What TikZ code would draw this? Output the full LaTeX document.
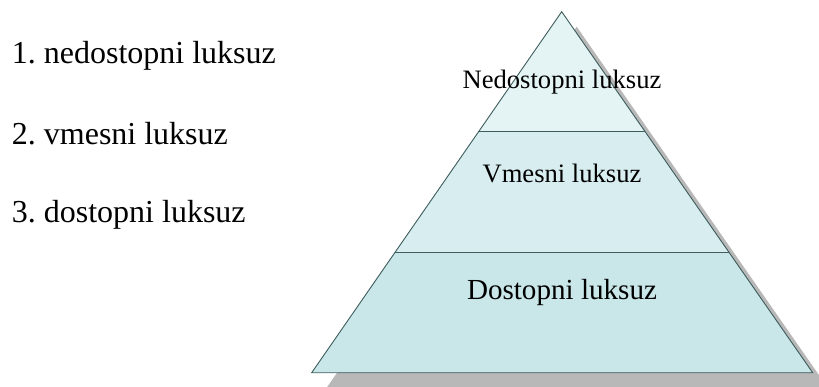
\documentclass[tikz,border=0pt]{standalone}
\usepackage{fontspec}
\setmainfont{Liberation Serif}
\frenchspacing
\definecolor{edgeslate}{RGB}{62,92,92}
\definecolor{toplayer}{RGB}{228,244,245}
\definecolor{midlayer}{RGB}{215,237,240}
\definecolor{baselayer}{RGB}{201,231,233}
\tikzset{layer/.style = {draw=edgeslate, line width=0.9pt, line join=miter}}
\tikzset{shade/.style = {fill=black!28}}
\tikzset{listitem/.style = {anchor=base west, inner sep=0pt, font=\fontsize{32}{38}\selectfont}}
\tikzset{tier/.style = {anchor=base, inner sep=0pt, font=\fontsize{26.6}{32}\selectfont}}

\begin{document}
\begin{tikzpicture}[x=1pt, y=-1pt]
          \useasboundingbox (0,0) rectangle (819,387);
          % corners of the pyramid and its two dividing lines
          \coordinate (apex) at (561.7, 11.7);
          \coordinate (BL) at (311.7, 372.7);
          \coordinate (BR) at (812.7, 372.7);
          \coordinate (L1) at (478.4, 131.7);
          \coordinate (R1) at (645.0, 131.7);
          \coordinate (L2) at (394.5, 252.7);
          \coordinate (R2) at (728.9, 252.7);

          % drop shadow
          \fill[shade] ([shift={(15,15)}]apex) -- ([shift={(15,15)}]BR) -- ([shift={(15,15)}]BL) -- cycle;

          % tiers
          \fill[toplayer] (apex) -- (R1) -- (L1) -- cycle;
          \fill[midlayer] (L1) -- (R1) -- (R2) -- (L2) -- cycle;
          \fill[baselayer] (L2) -- (R2) -- (BR) -- (BL) -- cycle;
          \draw[layer] (apex) -- (BR) -- (BL) -- cycle;
          \draw[layer] (L1) -- (R1);
          \draw[layer] (L2) -- (R2);

          \node[tier] (Nedost) at (562, 88.3) {Nedostopni luksuz};
          \node[tier] (Vmesni) at (562, 182.7) {Vmesni luksuz};
          \node[tier, font=\fontsize{29.1}{35}\selectfont] (Dost) at (562, 300) {Dostopni luksuz};

          \node[listitem] (item1) at (11.7, 64) {1. nedostopni luksuz};
          \node[listitem] (item2) at (11.7, 145) {2. vmesni luksuz};
          \node[listitem] (item3) at (11.7, 223) {3. dostopni luksuz};
        \end{tikzpicture}
\end{document}
